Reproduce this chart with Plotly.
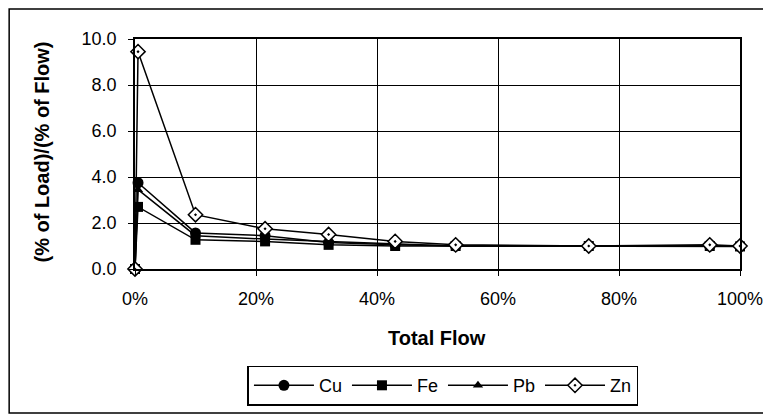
import plotly.graph_objects as go

flow_pct = [0, 0.5, 10, 21.5, 32, 43, 53, 75, 95, 100]
cu = [0, 3.75, 1.57, 1.45, 1.15, 1.05, 1.0, 1.0, 1.0, 1.0]
fe = [0, 2.7, 1.27, 1.2, 1.05, 1.0, 1.0, 1.0, 1.0, 0.98]
pb = [0, 3.45, 1.45, 1.3, 1.2, 1.1, 1.0, 1.0, 1.0, 1.0]
zn = [0, 9.45, 2.36, 1.75, 1.5, 1.2, 1.05, 1.0, 1.05, 1.0]

x_ticks = [0, 20, 40, 60, 80, 100]
x_tick_labels = ["0%", "20%", "40%", "60%", "80%", "100%"]
y_ticks = [0, 2, 4, 6, 8, 10]
y_tick_labels = ["0.0", "2.0", "4.0", "6.0", "8.0", "10.0"]

FONT = "Liberation Sans, Arial, sans-serif"

fig = go.Figure()
series = [
    ("Cu", cu, dict(symbol="circle", size=11, color="black")),
    ("Fe", fe, dict(symbol="square", size=10, color="black")),
    ("Pb", pb, dict(symbol="triangle-up", size=9, color="black")),
    ("Zn", zn, dict(symbol="diamond-dot", size=11, color="white",
                    line=dict(color="black", width=1.5))),
]
for name, vals, mk in series:
    fig.add_trace(go.Scatter(
        x=flow_pct, y=vals, name=name, mode="lines+markers", cliponaxis=False,
        line=dict(color="black", width=1.5), marker=mk,
    ))

fig.update_layout(
    width=771, height=417,
    margin=dict(l=127, r=39, t=31, b=156, autoexpand=False),
    paper_bgcolor="white", plot_bgcolor="white",
    font=dict(family=FONT, color="black", size=18),
    showlegend=True,
    legend=dict(orientation="h", x=0.509, xanchor="center", y=-0.42, yanchor="top",
                bordercolor="black", borderwidth=1.5, font=dict(size=18),
                itemwidth=60, tracegroupgap=0),
    xaxis=dict(range=[0, 100], tickvals=x_ticks, ticktext=x_tick_labels,
               showgrid=True, gridcolor="black", gridwidth=1,
               showline=True, linecolor="black", linewidth=1.5, mirror=True,
               ticks="outside", ticklen=5, tickcolor="black", zeroline=False,
               ticklabelstandoff=8, tickfont=dict(size=18)),
    yaxis=dict(range=[0, 10], tickvals=y_ticks, ticktext=y_tick_labels,
               showgrid=True, gridcolor="black", gridwidth=1,
               showline=True, linecolor="black", linewidth=1.5, mirror=True,
               ticks="outside", ticklen=5, tickcolor="black", zeroline=False,
               ticklabelstandoff=8, tickfont=dict(size=18)),
    annotations=[
        dict(text="<b>Total Flow</b>", xref="paper", yref="paper", x=0.499, y=-0.30,
             xanchor="center", yanchor="middle", showarrow=False, font=dict(size=20)),
        dict(text="<b>(% of Load)/(% of Flow)</b>", xref="paper", yref="paper",
             x=-0.154, y=0.51, xanchor="center", yanchor="middle", textangle=-90,
             showarrow=False, font=dict(size=20)),
    ],
)
fig.add_shape(type="rect", xref="paper", yref="paper",
              x0=-0.208, x1=1.048, y0=-0.626, y1=1.13,
              line=dict(color="black", width=1.5), layer="below")
fig.write_html("out.html")
